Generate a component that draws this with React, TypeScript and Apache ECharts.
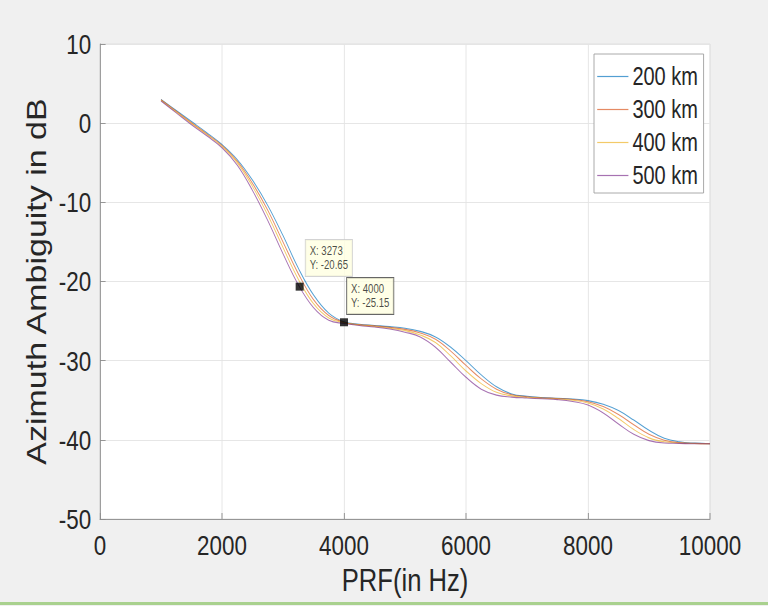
import React, { useEffect, useRef } from "react";
import * as echarts from "echarts";

const prf = [
  1000, 1250, 1500, 1750, 2000, 2250, 2500, 2750, 3000, 3250, 3500, 3750, 4000,
  4250, 4500, 4750, 5000, 5250, 5500, 5750, 6000, 6250, 6500, 6750, 7000, 7250,
  7500, 7750, 8000, 8250, 8500, 8750, 9000, 9250, 9500, 9750, 10000,
];

const km200 = [
  3.0, 1.6, 0.2, -1.2, -2.7, -4.6, -7.2, -10.4, -14.2, -18.3, -21.7, -24.0, -25.1,
  -25.4, -25.55, -25.7, -25.9, -26.3, -27.0, -28.3, -30.0, -31.8, -33.3, -34.2, -34.5, -34.65,
  -34.75, -34.85, -35.05, -35.5, -36.3, -37.5, -38.8, -39.8, -40.25, -40.42, -40.5,
];
const km300 = [
  2.95, 1.5, 0.05, -1.35, -2.8, -4.8, -7.6, -11.0, -15.0, -19.0, -22.3, -24.3, -25.15,
  -25.45, -25.6, -25.8, -26.05, -26.5, -27.3, -28.8, -30.6, -32.3, -33.6, -34.3, -34.55, -34.68,
  -34.78, -34.9, -35.2, -35.8, -36.8, -38.1, -39.3, -40.05, -40.35, -40.45, -40.5,
];
const km400 = [
  2.9, 1.4, -0.05, -1.45, -2.95, -5.0, -8.0, -11.6, -15.7, -19.7, -22.8, -24.6, -25.2,
  -25.5, -25.68, -25.9, -26.2, -26.75, -27.7, -29.4, -31.3, -32.9, -34.0, -34.45, -34.65, -34.75,
  -34.85, -35.0, -35.35, -36.1, -37.3, -38.7, -39.75, -40.25, -40.4, -40.47, -40.5,
];
const km500 = [
  2.8, 1.3, -0.2, -1.6, -3.1, -5.3, -8.5, -12.3, -16.5, -20.4, -23.3, -24.9, -25.3,
  -25.55, -25.75, -26.0, -26.4, -27.0, -28.3, -30.2, -32.1, -33.6, -34.35, -34.6, -34.72, -34.82,
  -34.92, -35.15, -35.6, -36.6, -38.0, -39.3, -40.1, -40.4, -40.45, -40.5, -40.5,
];

const seriesNames = ["200 km", "300 km", "400 km", "500 km"];
const seriesColors = ["#0072BD", "#D95319", "#EDB120", "#7E2F8E"];
const seriesValues = [km200, km300, km400, km500];

const tipX = [3273, 4000];
const tipY = [-20.65, -25.15];

const FONT = "'Liberation Sans', Arial, Helvetica, sans-serif";
// the reference picture is horizontally compressed; draw wide, then squeeze
const SQUEEZE = 0.8;
const W = 768 / SQUEEZE;
const H = 606;

export default function App() {
  const ref = useRef<HTMLDivElement>(null);
  useEffect(() => {
    if (!ref.current) return;
    const chart = echarts.init(ref.current, undefined, { renderer: "svg" });
    const lines = seriesNames.map((name, i) => ({
      name,
      type: "line",
      data: prf.map((x, j) => [x, seriesValues[i][j]]),
      smooth: 0.4,
      symbol: "none",
      showSymbol: false,
      lineStyle: { width: 1.1, color: seriesColors[i], opacity: 0.68 },
      itemStyle: { color: seriesColors[i], opacity: 0.68 },
      z: 2,
    }));
    const tipPos = [
      [12.5, -42.7],
      [8.75, -40.3],
    ];
    const tipBorder = ["#c8c8c8", "#404040"];
    chart.setOption({
      animation: false,
      backgroundColor: "#f0f0f0",
      textStyle: { fontFamily: FONT },
      grid: {
        left: 100 / SQUEEZE,
        right: 58 / SQUEEZE,
        top: 44,
        bottom: 87,
        show: true,
        backgroundColor: "#ffffff",
        borderColor: "#dedede",
        borderWidth: 1,
      },
      legend: {
        data: seriesNames.map((n) => ({ name: n, icon: "rect" })),
        orient: "vertical",
        left: 594 / SQUEEZE,
        top: 54,
        padding: [10, 7, 5, 4],
        itemWidth: 39,
        itemHeight: 1.2,
        itemGap: 8,
        backgroundColor: "#ffffff",
        borderColor: "#a0a0a0",
        borderWidth: 1,
        borderRadius: 0,
        itemStyle: { opacity: 0.68 },
        textStyle: {
          fontFamily: FONT,
          fontSize: 25,
          lineHeight: 24,
          color: "#262626",
        },
      },
      xAxis: {
        type: "value",
        min: 0,
        max: 10000,
        interval: 2000,
        name: "PRF(in Hz)",
        nameLocation: "middle",
        nameGap: 42,
        nameTextStyle: { fontFamily: FONT, fontSize: 32, color: "#262626" },
        axisLine: { show: true, onZero: false, lineStyle: { color: "#8c8c8c", width: 1 } },
        axisTick: { show: true, inside: true, length: 6, lineStyle: { color: "#8c8c8c" } },
        axisLabel: {
          fontFamily: FONT,
          fontSize: 28,
          color: "#262626",
          margin: 12,
          formatter: (v: number) => String(v),
        },
        splitLine: { show: true, lineStyle: { color: "#e3e3e3", width: 1 } },
      },
      yAxis: {
        type: "value",
        min: -50,
        max: 10,
        interval: 10,
        name: "Azimuth Ambiguity in dB",
        nameLocation: "middle",
        nameGap: 54,
        nameRotate: 90,
        nameTextStyle: { fontFamily: FONT, fontSize: 34, color: "#262626" },
        axisLine: { show: true, onZero: false, lineStyle: { color: "#8c8c8c", width: 1 } },
        axisTick: { show: true, inside: true, length: 7, lineStyle: { color: "#8c8c8c" } },
        axisLabel: {
          fontFamily: FONT,
          fontSize: 28,
          color: "#262626",
          margin: 11,
          formatter: (v: number) => String(v),
        },
        splitLine: { show: true, lineStyle: { color: "#e3e3e3", width: 1 } },
      },
      series: [
        ...lines,
        {
          name: "tips",
          type: "scatter",
          symbol: "rect",
          symbolSize: [10, 8],
          itemStyle: { color: "#000000" },
          z: 5,
          data: tipX.map((x, i) => ({
            value: [x, tipY[i]],
            label: {
              show: true,
              position: tipPos[i],
              borderColor: tipBorder[i],
            },
          })),
          label: {
            show: true,
            formatter: (p: any) => `X: ${p.value[0]}\nY: ${p.value[1]}`,
            backgroundColor: "#ffffe1",
            borderWidth: 1,
            padding: [4, 5, 4, 5],
            fontFamily: FONT,
            fontSize: 12,
            lineHeight: 14,
            color: "#1a1a1a",
            align: "left",
            verticalAlign: "top",
          },
        },
      ],
      graphic: [
        {
          type: "rect",
          left: 0,
          top: 602,
          shape: { width: W, height: 3 },
          style: { fill: "#a9d18e" },
          silent: true,
        },
      ],
    });
    return () => chart.dispose();
  }, []);
  return (
    <div
      ref={ref}
      style={{
        position: "fixed",
        left: 0,
        top: 0,
        width: W,
        height: H,
        transform: `scaleX(${SQUEEZE})`,
        transformOrigin: "0 0",
      }}
    />
  );
}
